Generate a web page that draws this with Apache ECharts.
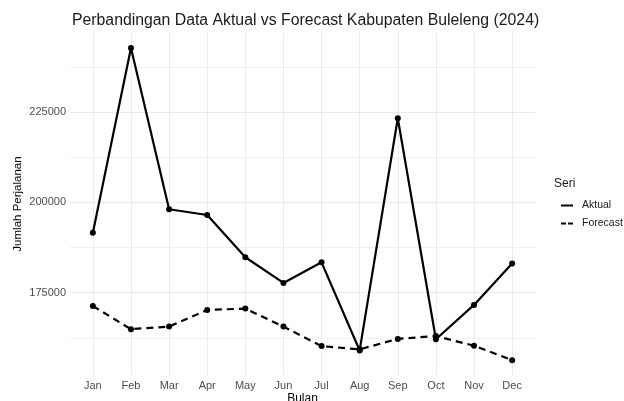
<!DOCTYPE html>
<html><head><meta charset="utf-8">
<script src="https://cdn.jsdelivr.net/npm/echarts@6/dist/echarts.min.js"></script>
<style>html,body{margin:0;padding:0;background:#fff}#c{width:624px;height:401px}</style>
</head><body><div id="c"></div>
<script>
const months = ['Jan','Feb','Mar','Apr','May','Jun','Jul','Aug','Sep','Oct','Nov','Dec'];
const aktual = [191600, 242750, 198100, 196500, 184800, 177700, 183400, 159000, 223300, 162100, 171600, 183100];
const forecast = [171300, 164900, 165600, 170200, 170600, 165600, 160200, 159300, 162200, 163000, 160300, 156300];
const yTickLabels = [175000, 200000, 225000];
const yMinorTicks = [162500, 187500, 212500, 237500];
const seriesNames = ['Aktual', 'Forecast'];

const FONT = 'Liberation Sans, Arial, sans-serif';
const yMin = 152200, yMax = 246900;
const xIdx = months.map((m, i) => i);

const chart = echarts.init(document.getElementById('c'), null, {renderer: 'canvas'});
chart.setOption({
  animation: false,
  backgroundColor: '#fff',
  textStyle: {fontFamily: FONT},
  title: [
    {text: 'Perbandingan Data Aktual vs Forecast Kabupaten Buleleng (2024)', left: 72, top: 13, padding: 0,
     textStyle: {fontFamily: FONT, fontSize: 15.8, fontWeight: 'normal', color: '#1a1a1a'}},
    {text: 'Seri', left: 554, top: 178, padding: 0, textStyle: {fontFamily: FONT, fontSize: 12, fontWeight: 'normal', color: '#1a1a1a'}}
  ],
  legend: {
    orient: 'vertical', left: 561, top: 200, padding: 0, itemGap: 7,
    itemWidth: 12, itemHeight: 2,
    data: [
      {name: seriesNames[0], icon: 'path://M0,0h12v2h-12z'},
      {name: seriesNames[1], icon: 'path://M0,0h5v2h-5z M7,0h5v2h-5z'}
    ],
    textStyle: {fontFamily: FONT, fontSize: 10.5, color: '#1a1a1a', padding: [0, 0, 0, 4]}
  },
  grid: {left: 70, top: 33, width: 465, height: 342, containLabel: false, outerBoundsMode: 'none'},
  xAxis: {
    type: 'value', min: -0.6, max: 11.6,
    axisLine: {show: false},
    axisTick: {show: false, customValues: xIdx},
    axisLabel: {customValues: xIdx, formatter: v => months[Math.round(v)], color: '#4d4d4d', fontSize: 11, margin: 5, fontFamily: FONT},
    splitLine: {show: true, lineStyle: {color: '#ebebeb', width: 1}},
    name: 'Bulan', nameLocation: 'middle', nameGap: 18, nameMoveOverlap: false,
    nameTextStyle: {fontFamily: FONT, fontSize: 12, color: '#000'}
  },
  yAxis: [
    {
      type: 'value', min: yMin, max: yMax,
      axisLine: {show: false},
      axisTick: {show: false, customValues: yTickLabels},
      axisLabel: {customValues: yTickLabels, formatter: v => String(Math.round(v)), color: '#4d4d4d', fontSize: 11, margin: 4, fontFamily: FONT},
      splitLine: {show: true, lineStyle: {color: '#ebebeb', width: 1}},
      name: 'Jumlah Perjalanan', nameLocation: 'middle', nameRotate: 90, nameGap: 46, nameMoveOverlap: false,
      nameTextStyle: {fontFamily: FONT, fontSize: 11.5, color: '#000'}
    },
    {
      type: 'value', min: yMin, max: yMax, position: 'left',
      axisLine: {show: false},
      axisTick: {show: false, customValues: yMinorTicks},
      axisLabel: {show: false, customValues: yMinorTicks},
      splitLine: {show: true, lineStyle: {color: '#f0f0f0', width: 1}}
    }
  ],
  series: [
    {
      name: seriesNames[0], type: 'line', yAxisIndex: 0,
      data: aktual.map((v, i) => [xIdx[i], v]),
      symbol: 'circle', symbolSize: 6,
      itemStyle: {color: '#000'},
      lineStyle: {color: '#000', width: 2.2}
    },
    {
      name: seriesNames[1], type: 'line', yAxisIndex: 0,
      data: forecast.map((v, i) => [xIdx[i], v]),
      symbol: 'circle', symbolSize: 6,
      itemStyle: {color: '#000'},
      lineStyle: {color: '#000', width: 2.2, type: [7, 5]}
    }
  ]
});
</script>
</body></html>
